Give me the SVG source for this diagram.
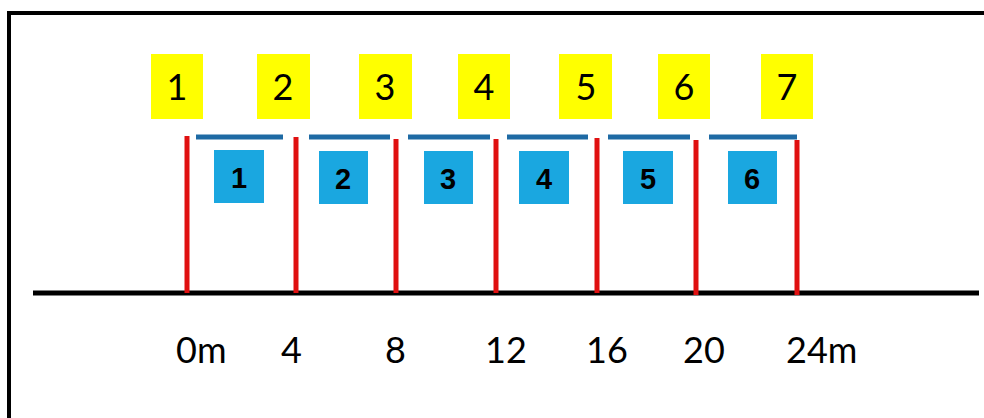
<svg xmlns="http://www.w3.org/2000/svg" width="984" height="418" viewBox="0 0 984 418">
<style>
.frame{fill:none;stroke:#000;stroke-width:4}
.ybox{fill:#ffff00}
.bbox{fill:#1aa7e0}
.post{stroke:#e01010;stroke-width:5}
.beam{stroke:#1e6aa4;stroke-width:5}
.ground{stroke:#000;stroke-width:5}
.yt{font-family:Lato,"Open Sans",sans-serif;font-size:36px;fill:#000;text-anchor:middle}
.bt{font-family:"Liberation Sans",Arial,sans-serif;font-size:29px;font-weight:bold;fill:#000;text-anchor:middle}
.lt{font-family:Lato,"Open Sans",sans-serif;font-size:36px;fill:#000}
</style>
<rect width="984" height="418" fill="#fff"/>
<path class="frame" d="M9,430 L9,13 L990,13"/>
<g id="ground"><line class="ground" x1="33" y1="293" x2="979" y2="293"/></g>
<g id="connectors">
<line class="post" x1="187" y1="136" x2="187" y2="293"/>
<line class="post" x1="296" y1="137" x2="296" y2="293"/>
<line class="post" x1="396" y1="139" x2="396" y2="293"/>
<line class="post" x1="496" y1="139" x2="496" y2="293"/>
<line class="post" x1="597" y1="138" x2="597" y2="293"/>
<line class="post" x1="696" y1="140" x2="696" y2="295"/>
<line class="post" x1="797" y1="140" x2="797" y2="295"/>
<line class="beam" x1="196" y1="137" x2="283" y2="137"/>
<line class="beam" x1="309" y1="137" x2="390" y2="137"/>
<line class="beam" x1="408" y1="137" x2="490" y2="137"/>
<line class="beam" x1="507" y1="137" x2="588" y2="137"/>
<line class="beam" x1="608" y1="137" x2="690" y2="137"/>
<line class="beam" x1="709" y1="137" x2="797" y2="137"/>
</g>
<g id="y1"><rect class="ybox" x="151" y="54" width="52" height="65"/><text class="yt" x="177" y="100">1</text></g>
<g id="y2"><rect class="ybox" x="257" y="54" width="53" height="65"/><text class="yt" x="283" y="100">2</text></g>
<g id="y3"><rect class="ybox" x="359" y="54" width="53" height="65"/><text class="yt" x="385" y="100">3</text></g>
<g id="y4"><rect class="ybox" x="458" y="54" width="52" height="65"/><text class="yt" x="484" y="100">4</text></g>
<g id="y5"><rect class="ybox" x="559" y="54" width="53" height="65"/><text class="yt" x="586" y="100">5</text></g>
<g id="y6"><rect class="ybox" x="658" y="54" width="52" height="65"/><text class="yt" x="684" y="100">6</text></g>
<g id="y7"><rect class="ybox" x="761" y="54" width="52" height="65"/><text class="yt" x="787" y="100">7</text></g>
<g id="b1"><rect class="bbox" x="214" y="150" width="50" height="53"/><text class="bt" x="239" y="188">1</text></g>
<g id="b2"><rect class="bbox" x="319" y="151" width="49" height="53"/><text class="bt" x="343" y="189">2</text></g>
<g id="b3"><rect class="bbox" x="424" y="151" width="49" height="53"/><text class="bt" x="448" y="189">3</text></g>
<g id="b4"><rect class="bbox" x="519" y="151" width="50" height="53"/><text class="bt" x="544" y="189">4</text></g>
<g id="b5"><rect class="bbox" x="623" y="151" width="50" height="53"/><text class="bt" x="648" y="189">5</text></g>
<g id="b6"><rect class="bbox" x="728" y="151" width="49" height="53"/><text class="bt" x="752" y="189">6</text></g>
<g id="labels">
<text class="lt" x="176" y="363">0m</text>
<text class="lt" x="281" y="363">4</text>
<text class="lt" x="385" y="363">8</text>
<text class="lt" x="485" y="363">12</text>
<text class="lt" x="586" y="363">16</text>
<text class="lt" x="683" y="363">20</text>
<text class="lt" x="786" y="363">24m</text>
</g>
</svg>
